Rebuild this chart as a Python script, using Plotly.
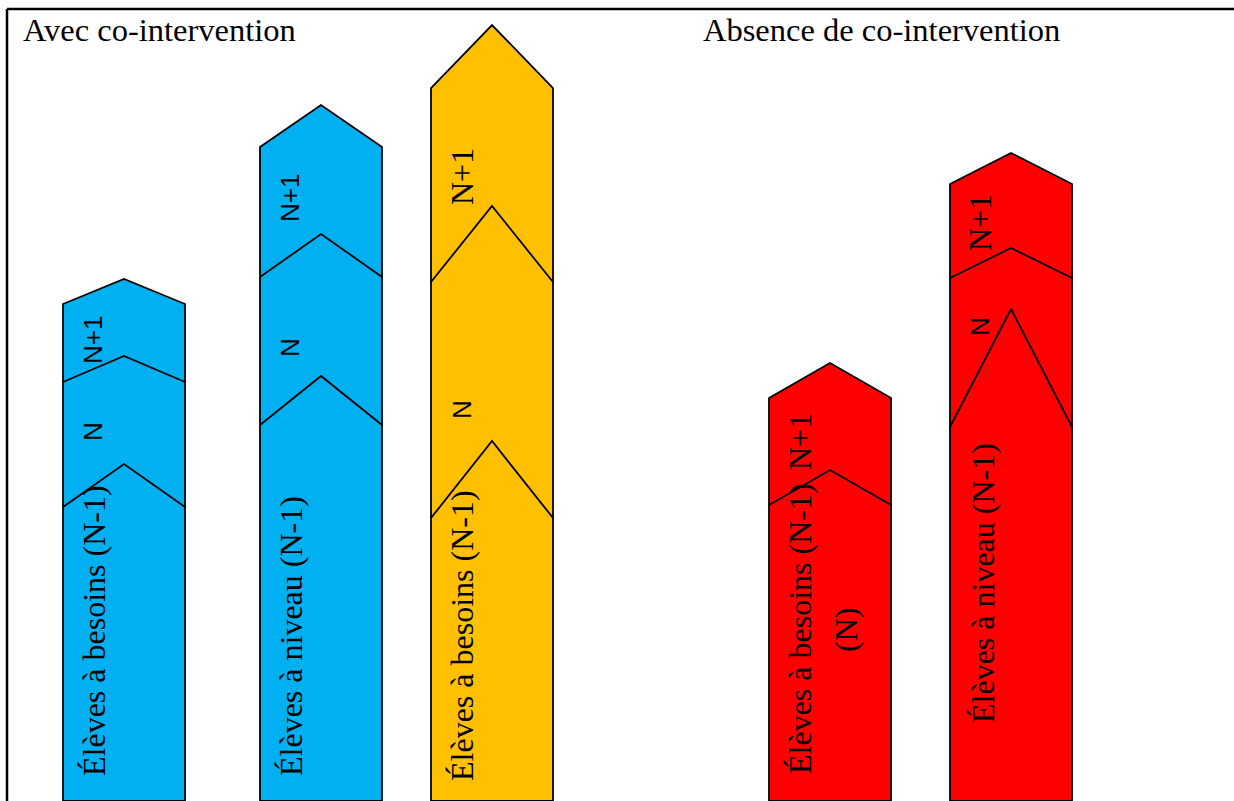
import plotly.graph_objects as go

# ---- data (heights measured from the base line, in chart units) ----
col_left = [63, 260, 431, 769, 950]
col_width = 122
col_colors = ["#00B0F0", "#00B0F0", "#FFC000", "#FF0000", "#FF0000"]
# segments listed bottom -> top : (shoulder height, tip height)
seg_shoulder = [[293, 418, 496], [375, 523, 653], [282, 518, 712], [295, 402], [373, 522, 616]]
seg_tip = [[336, 444, 521], [424, 566, 695], [359, 594, 775], [330, 437], [491, 552, 647]]

# labels: (column, height, text, font family, size, x offset)
labels = [
    (0, 169, "Élèves à besoins (N-1)", "serif", 32, 31),
    (0, 368, "N", "sans", 26, 30),
    (0, 460, "N+1", "sans", 26, 30),
    (1, 164, "Élèves à niveau (N-1)", "serif", 32, 31),
    (1, 452, "N", "sans", 26, 30),
    (1, 602, "N+1", "sans", 26, 30),
    (2, 164, "Élèves à besoins (N-1)", "serif", 32, 31),
    (2, 390, "N", "sans", 26, 31),
    (2, 623, "N+1", "serif", 32, 31),
    (3, 171, "Élèves à besoins (N-1)", "serif", 32, 31),
    (3, 170, "(N)", "serif", 32, 77),
    (3, 358, "N+1", "serif", 32, 31),
    (4, 217, "Élèves à niveau (N-1)", "serif", 32, 33),
    (4, 473, "N", "sans", 26, 30),
    (4, 577, "N+1", "serif", 32, 30),
]

titles = [(21, "Avec co-intervention"), (701, "Absence de co-intervention")]
title_height = 770

fonts = {"serif": "Liberation Serif, Times New Roman, serif",
         "sans": "Liberation Sans, Arial, sans-serif"}

fig = go.Figure()

for ci, left in enumerate(col_left):
    right = left + col_width
    mid = left + col_width / 2
    n = len(seg_shoulder[ci])
    # draw from top to bottom so lower arrows overlap upper ones
    for si in reversed(range(n)):
        bottom = -1 if si == 0 else seg_shoulder[ci][si - 1]
        sh = seg_shoulder[ci][si]
        tp = seg_tip[ci][si]
        xs = [left, left, mid, right, right, left]
        ys = [bottom, sh, tp, sh, bottom, bottom]
        fig.add_trace(go.Scatter(
            x=xs, y=ys, mode="lines", fill="toself",
            fillcolor=col_colors[ci],
            line=dict(color="black", width=1.8),
            hoverinfo="skip", showlegend=False))

for ci, h, txt, fam, size, dx in labels:
    fig.add_annotation(x=col_left[ci] + dx, y=h, text=txt, showarrow=False,
                       textangle=-90, xanchor="center", yanchor="middle",
                       font=dict(family=fonts[fam], size=size, color="black"))

for x0, txt in titles:
    fig.add_annotation(x=x0, y=title_height, text=txt, showarrow=False,
                       xanchor="left", yanchor="middle",
                       font=dict(family=fonts["serif"], size=32.5, color="black"))

# frame
fig.add_shape(type="line", x0=7, x1=1240, y0=791, y1=791,
              line=dict(color="black", width=2.5))
fig.add_shape(type="line", x0=7, x1=7, y0=-5, y1=791,
              line=dict(color="black", width=2.5))

fig.update_layout(
    width=1234, height=801,
    margin=dict(l=0, r=0, t=0, b=0),
    paper_bgcolor="white", plot_bgcolor="white",
    xaxis=dict(range=[0, 1234], visible=False, fixedrange=True),
    yaxis=dict(range=[-1, 800], visible=False, fixedrange=True),
    showlegend=False,
)

fig.write_html("out.html", config={"displayModeBar": False},
               post_script="document.body.style.margin='0';document.body.style.overflow='hidden';")
